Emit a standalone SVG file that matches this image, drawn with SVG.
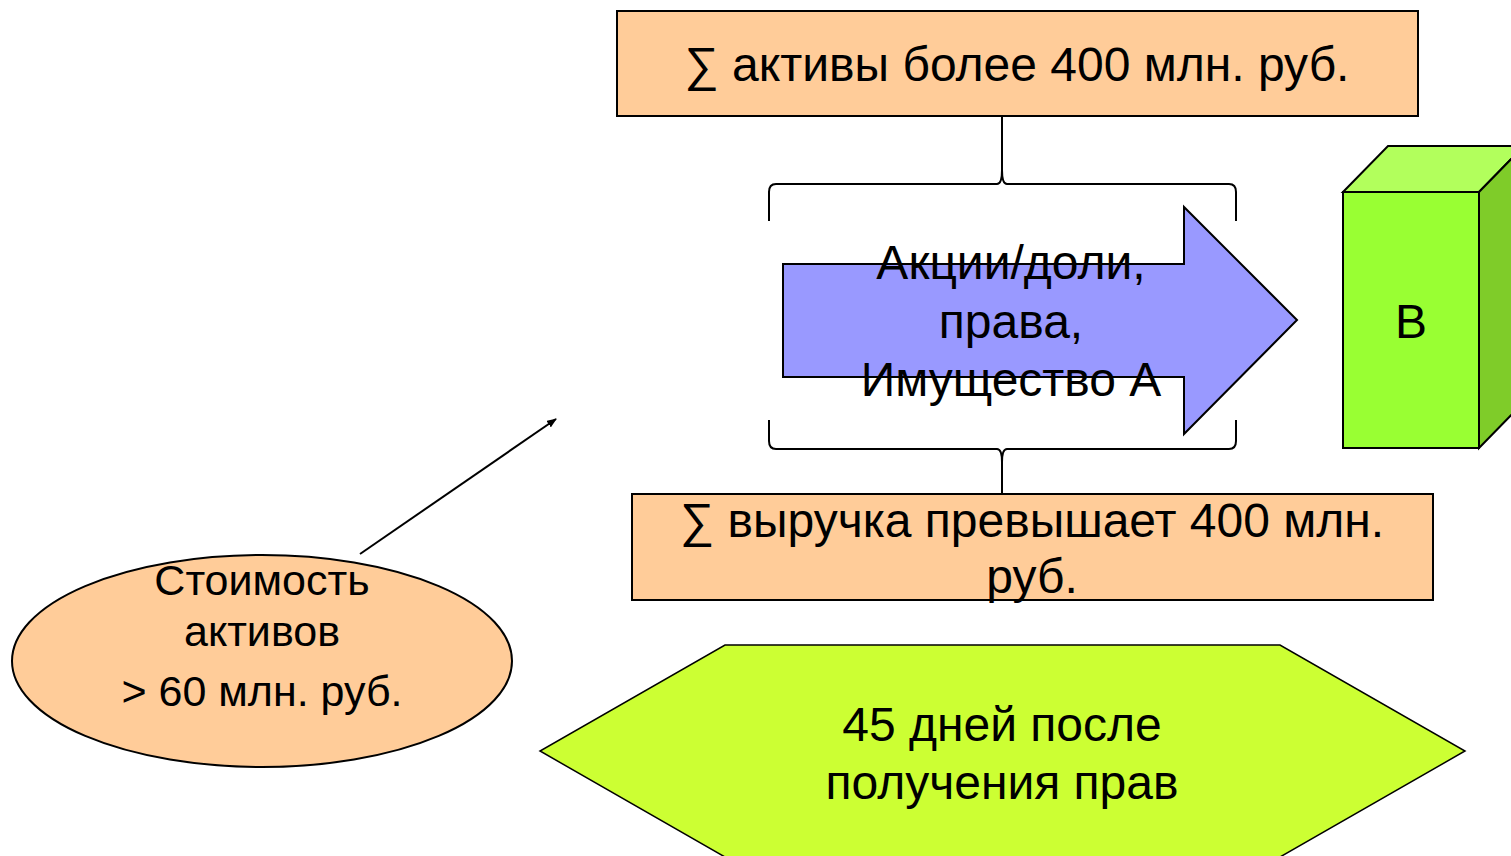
<svg xmlns="http://www.w3.org/2000/svg" width="1511" height="856" viewBox="0 0 1511 856">
<style>
.t{font-family:"Liberation Sans",Arial,sans-serif;font-size:48px;fill:#000;text-anchor:middle}
.box{fill:#FFCC99;stroke:#000;stroke-width:2}
.ln{fill:none;stroke:#000;stroke-width:2}
</style>
<defs>
<marker id="ah" markerWidth="10" markerHeight="8" refX="9" refY="4" orient="auto" markerUnits="userSpaceOnUse">
<path d="M0,0 L10,4 L0,8 z" fill="#000"/>
</marker>
</defs>
<rect width="1511" height="856" fill="#fff"/>
<g id="connectors">
<path class="ln" d="M1002,116 V170 Q1002,184 997,184 H776 Q769,184 769,192 V221"/>
<path class="ln" d="M1002,170 Q1002,184 1007,184 H1229 Q1236,184 1236,192 V221"/>
<path class="ln" d="M1002,494 V462 Q1002,449 997,449 H776 Q769,449 769,441 V420"/>
<path class="ln" d="M1002,462 Q1002,449 1007,449 H1229 Q1236,449 1236,441 V420"/>
<line x1="360" y1="554" x2="556" y2="419" stroke="#000" stroke-width="2" marker-end="url(#ah)"/>
</g>
<g id="assets">
<rect class="box" x="617" y="11" width="801" height="105"/>
<text class="t" x="1017" y="81">∑ активы более 400 млн. руб.</text>
</g>
<g id="transfer">
<path d="M783,264 H1184 V207 L1297,320 L1184,434 V377 H783 Z" fill="#9999FF" stroke="#000" stroke-width="2"/>
<text class="t" x="1011" y="279">Акции/доли,</text>
<text class="t" x="1011" y="338">права,</text>
<text class="t" x="1011" y="396">Имущество А</text>
</g>
<g id="b">
<path d="M1343,192 L1388,146 H1524 L1479,192 Z" fill="#B2FF5C" stroke="#000" stroke-width="2"/>
<path d="M1479,192 L1524,146 V402 L1479,448 Z" fill="#7FCC29" stroke="#000" stroke-width="2"/>
<rect x="1343" y="192" width="136" height="256" fill="#99FF33" stroke="#000" stroke-width="2"/>
<text class="t" x="1411" y="338">B</text>
</g>
<g id="revenue">
<rect class="box" x="632" y="494" width="801" height="106"/>
<text class="t" x="1032" y="537">∑ выручка превышает 400 млн.</text>
<text class="t" x="1032" y="593">руб.</text>
</g>
<g id="value">
<ellipse class="box" cx="262" cy="661" rx="250" ry="106"/>
<text class="t" x="262" y="595" style="font-size:43px">Стоимость</text>
<text class="t" x="262" y="646" style="font-size:43px">активов</text>
<text class="t" x="262" y="706" style="font-size:43px">&gt; 60 млн. руб.</text>
</g>
<g id="deadline">
<path d="M725,645 H1280 L1465,751 L1280,857 H725 L540,751 Z" fill="#CCFF33" stroke="#000" stroke-width="1.5"/>
<text class="t" x="1002" y="741">45 дней после</text>
<text class="t" x="1002" y="799">получения прав</text>
</g>
</svg>
